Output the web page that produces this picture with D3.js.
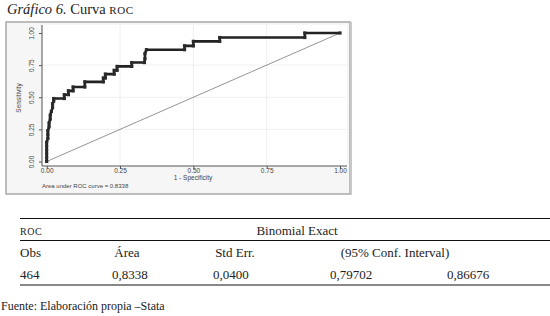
<!DOCTYPE html>
<html><head><meta charset="utf-8">
<script src="https://cdn.jsdelivr.net/npm/d3@7"></script>
<style>
html,body{margin:0;padding:0;background:#fff;}
svg{display:block;}
</style></head>
<body>
<script>
// ---- data ----
const fpr = [0,0,0,0,0,0,0.004,0.004,0.004,0.008,0.008,0.012,0.012,0.016,0.02,0.02,0.024,0.024,
  0.06,0.06,0.074,0.074,0.09,0.09,0.13,0.13,0.193,0.193,0.2,0.2,0.23,0.23,0.24,0.24,0.29,0.29,
  0.333,0.335,0.335,0.34,0.47,0.47,0.5,0.5,0.59,0.59,0.88,0.88,1];
const tpr = [0,0.03,0.06,0.09,0.12,0.15,0.18,0.21,0.24,0.27,0.30,0.33,0.36,0.39,0.42,0.45,0.47,0.49,
  0.49,0.52,0.52,0.55,0.55,0.58,0.58,0.62,0.62,0.65,0.65,0.68,0.68,0.71,0.71,0.74,0.74,0.77,
  0.77,0.80,0.84,0.87,0.87,0.90,0.90,0.935,0.935,0.965,0.965,1,1];
const tickVals = [0,0.25,0.5,0.75,1];
const tickLabels = ["0.00","0.25","0.50","0.75","1.00"];
const tableHeader1 = ["roc","Binomial Exact"];
const tableHeader2 = ["Obs","Área","Std Err.","(95% Conf. Interval)"];
const tableRow = ["464","0,8338","0,0400","0,79702","0,86676"];
const aucText = "Area under ROC curve = 0.8338";

const W=550,H=316;
const svg = d3.select("body").append("svg").attr("width",W).attr("height",H);
const serif = "'Liberation Serif','DejaVu Serif',serif";
const sans = "'Liberation Sans','DejaVu Sans',sans-serif";

// title
const t = svg.append("text").attr("x",7).attr("y",14).attr("font-family",serif).attr("font-size",14.5).attr("fill","#222");
t.append("tspan").attr("font-style","italic").text("Gráfico 6.");
t.append("tspan").text(" Curva ");
t.append("tspan").attr("font-size",11).attr("letter-spacing",0.6).text("ROC");

// graph frame
svg.append("rect").attr("x",6).attr("y",22).attr("width",344).attr("height",172)
  .attr("fill","#f6f6f6").attr("stroke","#a8a8a8").attr("stroke-width",1.5);
svg.append("line").attr("x1",351).attr("x2",351).attr("y1",22).attr("y2",195).attr("stroke","#c8c8c8").attr("stroke-width",2);
svg.append("rect").attr("x",42).attr("y",25).attr("width",305).attr("height",141).attr("fill","#fff");

const x = d3.scaleLinear().domain([0,1]).range([46.7,340]);
const y = d3.scaleLinear().domain([0,1]).range([161.5,33]);

// grid
const g = svg.append("g");
g.selectAll(".gx").data(tickVals.slice(1,4)).join("line")
  .attr("x1",d=>x(d)).attr("x2",d=>x(d)).attr("y1",25).attr("y2",166)
  .attr("stroke","#ececec").attr("stroke-width",0.8);
g.selectAll(".gy").data(tickVals.slice(1,4)).join("line")
  .attr("y1",d=>y(d)).attr("y2",d=>y(d)).attr("x1",42).attr("x2",347)
  .attr("stroke","#ececec").attr("stroke-width",0.8);

// axes
const xAxis = d3.axisBottom(x).tickValues(tickVals).tickFormat((d,i)=>tickLabels[i]).tickSize(3).tickSizeOuter(0);
const xg = svg.append("g").attr("transform","translate(0,166)").call(xAxis);
xg.select(".domain").attr("d","M42,0H347").attr("stroke","#555");
xg.selectAll(".tick line").attr("stroke","#555");
xg.selectAll("text").attr("font-family",sans).attr("font-size",6.5).attr("fill","#444").attr("y",2.5).attr("dy","0.71em");

const yAxis = d3.axisLeft(y).tickValues(tickVals).tickFormat((d,i)=>tickLabels[i]).tickSize(3).tickSizeOuter(0);
const yg = svg.append("g").attr("transform","translate(42,0)").call(yAxis);
yg.select(".domain").attr("d","M0,25V166").attr("stroke","#555");
yg.selectAll(".tick line").attr("stroke","#555");
yg.selectAll(".tick text").attr("font-family",sans).attr("font-size",6.5).attr("fill","#444")
  .attr("text-anchor","middle").attr("transform","rotate(-90)").attr("x",0).attr("y",-8).attr("dy",0);

svg.append("text").attr("transform","translate(21,98) rotate(-90)").attr("text-anchor","middle")
  .attr("font-family",sans).attr("font-size",6.5).attr("fill","#444").text("Sensitivity");
svg.append("text").attr("x",193).attr("y",180).attr("text-anchor","middle")
  .attr("font-family",sans).attr("font-size",6.5).attr("fill","#444").text("1 - Specificity");
svg.append("text").attr("x",42).attr("y",187.5)
  .attr("font-family",sans).attr("font-size",6).attr("fill","#444").text(aucText);

// reference line
svg.append("line").attr("x1",x(0)).attr("y1",y(0)).attr("x2",x(1)).attr("y2",y(1))
  .attr("stroke","#888").attr("stroke-width",0.9);

// ROC curve
const pts = fpr.map((d,i)=>[d,tpr[i]]);
svg.append("path").datum(pts)
  .attr("d",d3.line().x(d=>x(d[0])).y(d=>y(d[1])))
  .attr("fill","none").attr("stroke","#222").attr("stroke-width",2.6);
svg.selectAll(".m").data(pts).join("rect")
  .attr("x",d=>x(d[0])-1.6).attr("y",d=>y(d[1])-1.6).attr("width",3.2).attr("height",3.2)
  .attr("fill","#2a2a2a");

// table
const tb = svg.append("g").attr("font-family",serif).attr("font-size",13).attr("fill","#222");
[218.5,240.5,285].forEach(yy=>{
  tb.append("line").attr("x1",20).attr("x2",550).attr("y1",yy).attr("y2",yy).attr("stroke","#111").attr("stroke-width",1);
});
tb.append("text").attr("x",20).attr("y",235).attr("font-size",10).attr("letter-spacing",0.5).text(tableHeader1[0].toUpperCase());
tb.append("text").attr("x",297).attr("y",235).attr("text-anchor","middle").text(tableHeader1[1]);
const h2x=[20,127,235,395], h2a=["start","middle","middle","middle"];
tableHeader2.forEach((s,i)=>tb.append("text").attr("x",h2x[i]).attr("y",257).attr("text-anchor",h2a[i]).text(s));
const rx=[20,112,213,330,447];
tableRow.forEach((s,i)=>tb.append("text").attr("x",rx[i]).attr("y",278.5).text(s));

svg.append("text").attr("x",1).attr("y",310).attr("font-family",serif).attr("font-size",12).attr("fill","#222")
  .text("Fuente: Elaboración propia –Stata");
</script>
</body></html>
